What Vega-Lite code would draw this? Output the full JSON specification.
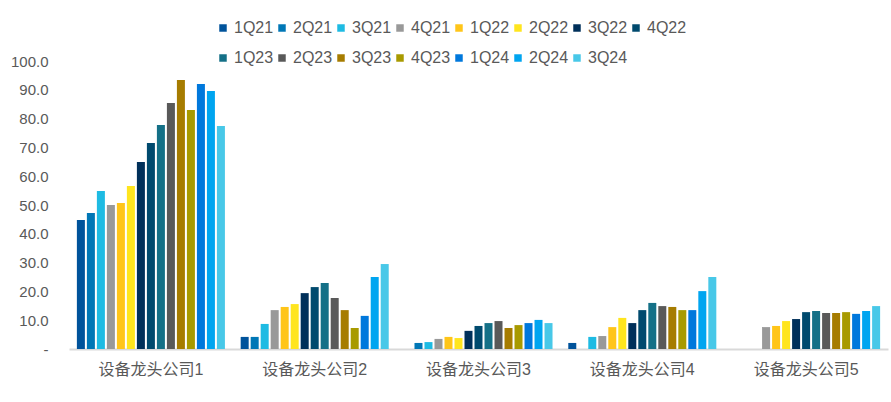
{
  "$schema": "https://vega.github.io/schema/vega-lite/v6.json",
  "autosize": "none",
  "width": 819,
  "height": 288,
  "padding": {"left": 69, "top": 61, "right": 3, "bottom": 53},
  "background": "white",
  "config": {"view": {"stroke": null}},
  "data": {"values": [
    {"company": "设备龙头公司1", "quarter": "1Q21", "value": 44.8},
    {"company": "设备龙头公司1", "quarter": "2Q21", "value": 47.2},
    {"company": "设备龙头公司1", "quarter": "3Q21", "value": 54.9},
    {"company": "设备龙头公司1", "quarter": "4Q21", "value": 50.0},
    {"company": "设备龙头公司1", "quarter": "1Q22", "value": 50.7},
    {"company": "设备龙头公司1", "quarter": "2Q22", "value": 56.6},
    {"company": "设备龙头公司1", "quarter": "3Q22", "value": 64.9},
    {"company": "设备龙头公司1", "quarter": "4Q22", "value": 71.5},
    {"company": "设备龙头公司1", "quarter": "1Q23", "value": 77.8},
    {"company": "设备龙头公司1", "quarter": "2Q23", "value": 85.4},
    {"company": "设备龙头公司1", "quarter": "3Q23", "value": 93.4},
    {"company": "设备龙头公司1", "quarter": "4Q23", "value": 83.0},
    {"company": "设备龙头公司1", "quarter": "1Q24", "value": 92.0},
    {"company": "设备龙头公司1", "quarter": "2Q24", "value": 89.6},
    {"company": "设备龙头公司1", "quarter": "3Q24", "value": 77.4},
    {"company": "设备龙头公司2", "quarter": "1Q21", "value": 4.2},
    {"company": "设备龙头公司2", "quarter": "2Q21", "value": 4.2},
    {"company": "设备龙头公司2", "quarter": "3Q21", "value": 8.7},
    {"company": "设备龙头公司2", "quarter": "4Q21", "value": 13.5},
    {"company": "设备龙头公司2", "quarter": "1Q22", "value": 14.6},
    {"company": "设备龙头公司2", "quarter": "2Q22", "value": 15.6},
    {"company": "设备龙头公司2", "quarter": "3Q22", "value": 19.4},
    {"company": "设备龙头公司2", "quarter": "4Q22", "value": 21.5},
    {"company": "设备龙头公司2", "quarter": "1Q23", "value": 22.9},
    {"company": "设备龙头公司2", "quarter": "2Q23", "value": 17.7},
    {"company": "设备龙头公司2", "quarter": "3Q23", "value": 13.5},
    {"company": "设备龙头公司2", "quarter": "4Q23", "value": 7.3},
    {"company": "设备龙头公司2", "quarter": "1Q24", "value": 11.5},
    {"company": "设备龙头公司2", "quarter": "2Q24", "value": 25.0},
    {"company": "设备龙头公司2", "quarter": "3Q24", "value": 29.5},
    {"company": "设备龙头公司3", "quarter": "2Q21", "value": 2.1},
    {"company": "设备龙头公司3", "quarter": "3Q21", "value": 2.4},
    {"company": "设备龙头公司3", "quarter": "4Q21", "value": 3.5},
    {"company": "设备龙头公司3", "quarter": "1Q22", "value": 4.2},
    {"company": "设备龙头公司3", "quarter": "2Q22", "value": 3.8},
    {"company": "设备龙头公司3", "quarter": "3Q22", "value": 6.3},
    {"company": "设备龙头公司3", "quarter": "4Q22", "value": 8.0},
    {"company": "设备龙头公司3", "quarter": "1Q23", "value": 9.0},
    {"company": "设备龙头公司3", "quarter": "2Q23", "value": 9.7},
    {"company": "设备龙头公司3", "quarter": "3Q23", "value": 7.3},
    {"company": "设备龙头公司3", "quarter": "4Q23", "value": 8.3},
    {"company": "设备龙头公司3", "quarter": "1Q24", "value": 9.0},
    {"company": "设备龙头公司3", "quarter": "2Q24", "value": 10.1},
    {"company": "设备龙头公司3", "quarter": "3Q24", "value": 9.0},
    {"company": "设备龙头公司4", "quarter": "1Q21", "value": 2.1},
    {"company": "设备龙头公司4", "quarter": "3Q21", "value": 4.2},
    {"company": "设备龙头公司4", "quarter": "4Q21", "value": 4.5},
    {"company": "设备龙头公司4", "quarter": "1Q22", "value": 7.6},
    {"company": "设备龙头公司4", "quarter": "2Q22", "value": 10.8},
    {"company": "设备龙头公司4", "quarter": "3Q22", "value": 9.0},
    {"company": "设备龙头公司4", "quarter": "4Q22", "value": 13.5},
    {"company": "设备龙头公司4", "quarter": "1Q23", "value": 16.0},
    {"company": "设备龙头公司4", "quarter": "2Q23", "value": 14.9},
    {"company": "设备龙头公司4", "quarter": "3Q23", "value": 14.6},
    {"company": "设备龙头公司4", "quarter": "4Q23", "value": 13.5},
    {"company": "设备龙头公司4", "quarter": "1Q24", "value": 13.5},
    {"company": "设备龙头公司4", "quarter": "2Q24", "value": 20.1},
    {"company": "设备龙头公司4", "quarter": "3Q24", "value": 25.0},
    {"company": "设备龙头公司5", "quarter": "4Q21", "value": 7.6},
    {"company": "设备龙头公司5", "quarter": "1Q22", "value": 8.0},
    {"company": "设备龙头公司5", "quarter": "2Q22", "value": 9.7},
    {"company": "设备龙头公司5", "quarter": "3Q22", "value": 10.4},
    {"company": "设备龙头公司5", "quarter": "4Q22", "value": 12.8},
    {"company": "设备龙头公司5", "quarter": "1Q23", "value": 13.2},
    {"company": "设备龙头公司5", "quarter": "2Q23", "value": 12.5},
    {"company": "设备龙头公司5", "quarter": "3Q23", "value": 12.5},
    {"company": "设备龙头公司5", "quarter": "4Q23", "value": 12.8},
    {"company": "设备龙头公司5", "quarter": "1Q24", "value": 12.2},
    {"company": "设备龙头公司5", "quarter": "2Q24", "value": 13.2},
    {"company": "设备龙头公司5", "quarter": "3Q24", "value": 14.9}
  ]},
  "mark": {"type": "bar"},
  "encoding": {
    "x": {
      "field": "company", "type": "nominal",
      "scale": {"paddingInner": 0.084, "paddingOuter": 0.042},
      "axis": {
        "title": null, "labelAngle": 0, "ticks": false,
        "domainColor": "#d9d9d9", "domainWidth": 2,
        "labelFont": "Liberation Sans, Noto Sans CJK SC", "labelFontSize": 16,
        "labelColor": "#595959", "labelPadding": 12
      }
    },
    "xOffset": {
      "field": "quarter", "type": "nominal",
      "scale": {
        "domain": ["1Q21","2Q21","3Q21","4Q21","1Q22","2Q22","3Q22","4Q22","1Q23","2Q23","3Q23","4Q23","1Q24","2Q24","3Q24"],
        "paddingInner": 0.2, "paddingOuter": 0.1
      }
    },
    "y": {
      "field": "value", "type": "quantitative",
      "scale": {"domain": [0, 100], "nice": false},
      "axis": {
        "title": null, "grid": false, "domain": false, "ticks": false,
        "values": [0,10,20,30,40,50,60,70,80,90,100],
        "labelExpr": "datum.value == 0 ? '-\u00a0\u00a0' : format(datum.value, '.1f')",
        "labelFont": "Liberation Sans", "labelFontSize": 15,
        "labelColor": "#595959", "labelPadding": 21
      }
    },
    "color": {
      "field": "quarter", "type": "nominal",
      "scale": {
        "domain": ["1Q21","2Q21","3Q21","4Q21","1Q22","2Q22","3Q22","4Q22","1Q23","2Q23","3Q23","4Q23","1Q24","2Q24","3Q24"],
        "range": ["#00539B","#0077B6","#1EBBE3","#999999","#FFC519","#FFE51E","#00305A","#004A6E","#147087","#595959","#A67C00","#A89A00","#0078DC","#00A5F0","#48C8E8"]
      },
      "legend": {
        "title": null, "orient": "none", "legendX": 146, "legendY": -41,
        "direction": "horizontal", "columns": 8,
        "symbolType": "square", "symbolSize": 56, "symbolStrokeWidth": 0,
        "labelFont": "Liberation Sans", "labelFontSize": 16, "labelColor": "#595959",
        "labelOffset": 3, "columnPadding": -3.5, "rowPadding": 14, "padding": 0
      }
    }
  }
}
